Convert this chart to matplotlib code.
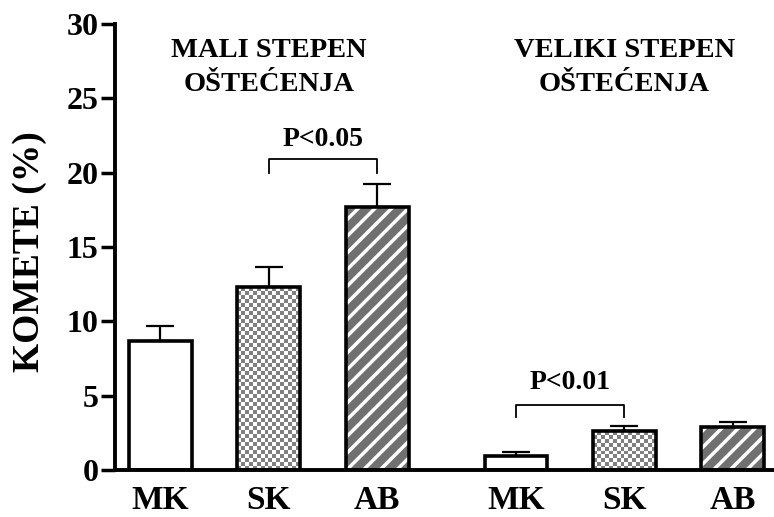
import numpy as np
import matplotlib.pyplot as plt

# podaci ocitani sa slike
grupe = ["MK", "SK", "AB", "MK", "SK", "AB"]
pozicije = [0, 1, 2, 3.28, 4.28, 5.28]
komete = [8.7, 12.3, 17.7, 0.95, 2.6, 2.9]
greske = [1.0, 1.35, 1.5, 0.25, 0.35, 0.3]
uzorak = ["prazno", "sah", "kose", "prazno", "sah", "kose"]

plt.rcParams['font.family'] = ['Liberation Serif', 'DejaVu Serif']
plt.rcParams['font.weight'] = 'bold'
plt.rcParams['hatch.linewidth'] = 2.5

fig = plt.figure(figsize=(7.74, 5.17), dpi=100)
ax = fig.add_axes([0.149, 0.091, 0.851, 0.863])

sirina = 0.58
px_x = 108.5   # piksela po jedinici x
px_y = 14.87   # piksela po jedinici y
for x, v, u in zip(pozicije, komete, uzorak):
    if u == "kose":
        ax.bar(x, v, width=sirina, color="#707070", edgecolor="white", hatch="//", linewidth=0, zorder=2)
    elif u == "sah":
        okvir = ax.bar(x, v, width=sirina, color="white", linewidth=0, zorder=2)[0]
        nx = int(round(sirina * px_x / 4))
        ny = max(1, int(round(v * px_y / 4)))
        ii, jj = np.indices((ny, nx))
        sah = np.where((ii + jj) % 2 == 0, 0.5, 1.0)
        img = ax.imshow(sah, cmap="gray", vmin=0, vmax=1, aspect="auto", interpolation="nearest",
                        extent=[x - sirina / 2, x + sirina / 2, 0, v], origin="lower", zorder=2)
        img.set_clip_path(okvir)
    else:
        ax.bar(x, v, width=sirina, color="white", linewidth=0, zorder=2)
    ax.bar(x, v, width=sirina, fill=False, edgecolor="black", linewidth=2.6, zorder=3)

ax.errorbar(pozicije, komete, yerr=[[0]*len(greske), greske], fmt="none",
            ecolor="black", elinewidth=1.6, capsize=10, capthick=1.6, zorder=1)

# zagrade za p vrednosti
def zagrada(x1, x2, y, h, yt, tekst):
    ax.plot([x1, x1, x2, x2], [y - h, y, y, y - h], color="black", lw=1.3)
    ax.text((x1 + x2) / 2, yt, tekst, ha="center", va="baseline", fontsize=20, fontweight="bold")

zagrada(pozicije[1], pozicije[2], 20.9, 0.9, 21.75, "P<0.05")
zagrada(pozicije[3], pozicije[4], 4.37, 0.8, 5.45, "P<0.01")

ax.text(1.0, 27.07, "MALI STEPEN\nOŠTEĆENJA", ha="center", va="center", fontsize=20.5,
        fontweight="bold", linespacing=1.45)
ax.text(4.28, 27.07, "VELIKI STEPEN\nOŠTEĆENJA", ha="center", va="center", fontsize=20.5,
        fontweight="bold", linespacing=1.45)

ax.set_xlim(-0.415, 5.66)
ax.set_ylim(0, 30)
ax.set_yticks([0, 5, 10, 15, 20, 25, 30])
ax.set_xticks(pozicije)
ax.set_xticklabels(grupe)
ax.tick_params(axis="y", length=10, width=2.5, pad=2, labelsize=23)
ax.tick_params(axis="x", length=0, pad=11, labelsize=24)
for t in ax.get_xticklabels() + ax.get_yticklabels():
    t.set_fontweight("bold")
ax.set_ylabel("KOMETE (%)", fontsize=27, fontweight="bold")
ax.yaxis.set_label_coords(-0.103, 0.489)

for s in ["top", "right"]:
    ax.spines[s].set_visible(False)
for s in ["left", "bottom"]:
    ax.spines[s].set_linewidth(2.8)

fig.savefig("out.png", dpi=100)
